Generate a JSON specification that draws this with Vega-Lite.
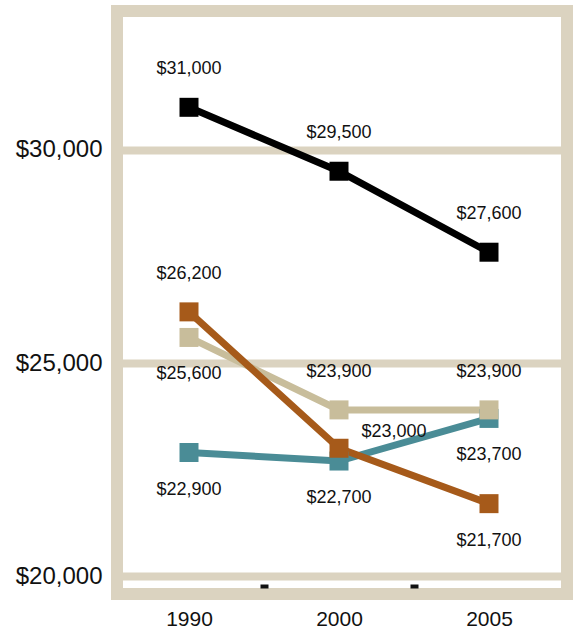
{
  "$schema": "https://vega.github.io/schema/vega-lite/v6.json",
  "autosize": "none",
  "padding": {"left": 117, "top": 11, "right": 8, "bottom": 36},
  "width": 450,
  "height": 583,
  "background": "white",
  "config": {
    "view": {"stroke": "#dbd3c0", "strokeWidth": 12},
    "font": "Liberation Sans",
    "text": {"font": "Liberation Sans"}
  },
  "data": {
    "values": [
      {"series": "Teal", "year": "1990", "value": 22900},
      {"series": "Teal", "year": "2000", "value": 22700},
      {"series": "Teal", "year": "2005", "value": 23700},
      {"series": "Tan", "year": "1990", "value": 25600},
      {"series": "Tan", "year": "2000", "value": 23900},
      {"series": "Tan", "year": "2005", "value": 23900},
      {"series": "Brown", "year": "1990", "value": 26200},
      {"series": "Brown", "year": "2000", "value": 23000},
      {"series": "Brown", "year": "2005", "value": 21700},
      {"series": "Black", "year": "1990", "value": 31000},
      {"series": "Black", "year": "2000", "value": 29500},
      {"series": "Black", "year": "2005", "value": 27600}
    ]
  },
  "encoding": {
    "x": {
      "field": "year",
      "type": "ordinal",
      "scale": {"type": "point", "padding": 0.5, "align": 0.48},
      "axis": {
        "title": null,
        "domain": false,
        "grid": false,
        "labelAngle": 0,
        "labelFontSize": 21,
        "labelColor": "#111111",
        "labelPadding": 20,
        "offset": -10,
        "ticks": true,
        "tickSize": 4,
        "tickWidth": 8,
        "tickColor": "#111111",
        "tickOffset": 75,
        "labelOffset": -75,
        "tickOpacity": {"condition": {"test": "datum.value == '2005'", "value": 0}, "value": 1}
      }
    },
    "y": {
      "field": "value",
      "type": "quantitative",
      "scale": {"domain": [19580, 33260], "nice": false, "zero": false},
      "axis": {
        "title": null,
        "values": [20000, 25000, 30000],
        "format": "$,.0f",
        "domain": false,
        "ticks": false,
        "grid": true,
        "gridColor": "#dbd3c0",
        "gridWidth": 8,
        "gridOpacity": 1,
        "labelFontSize": 24,
        "labelColor": "#111111",
        "labelPadding": 15
      }
    },
    "color": {
      "field": "series",
      "type": "nominal",
      "scale": {
        "domain": ["Teal", "Tan", "Brown", "Black"],
        "range": ["#4a8c96", "#c8bd9b", "#a65a1a", "#000000"]
      },
      "legend": null
    }
  },
  "layer": [
    {"mark": {"type": "line", "strokeWidth": 7}},
    {"mark": {"type": "point", "shape": "square", "filled": true, "size": 361, "opacity": 1}},
    {
      "transform": [{"filter": "!(datum.series == 'Teal' || (datum.series == 'Tan' && datum.year == '1990') || (datum.series == 'Brown' && datum.year == '2005') || (datum.series == 'Brown' && datum.year == '2000'))"}],
      "mark": {"type": "text", "dy": -38, "fontSize": 18, "color": "#111111"},
      "encoding": {"text": {"field": "value", "type": "quantitative", "format": "$,.0f"}, "color": {"value": "#111111"}}
    },
    {
      "transform": [{"filter": "datum.series == 'Teal' || (datum.series == 'Tan' && datum.year == '1990') || (datum.series == 'Brown' && datum.year == '2005')"}],
      "mark": {"type": "text", "dy": 37, "fontSize": 18, "color": "#111111"},
      "encoding": {"text": {"field": "value", "type": "quantitative", "format": "$,.0f"}, "color": {"value": "#111111"}}
    },
    {
      "transform": [{"filter": "datum.series == 'Brown' && datum.year == '2000'"}],
      "mark": {"type": "text", "dx": 55, "dy": -16, "fontSize": 18, "color": "#111111"},
      "encoding": {"text": {"field": "value", "type": "quantitative", "format": "$,.0f"}, "color": {"value": "#111111"}}
    }
  ]
}
